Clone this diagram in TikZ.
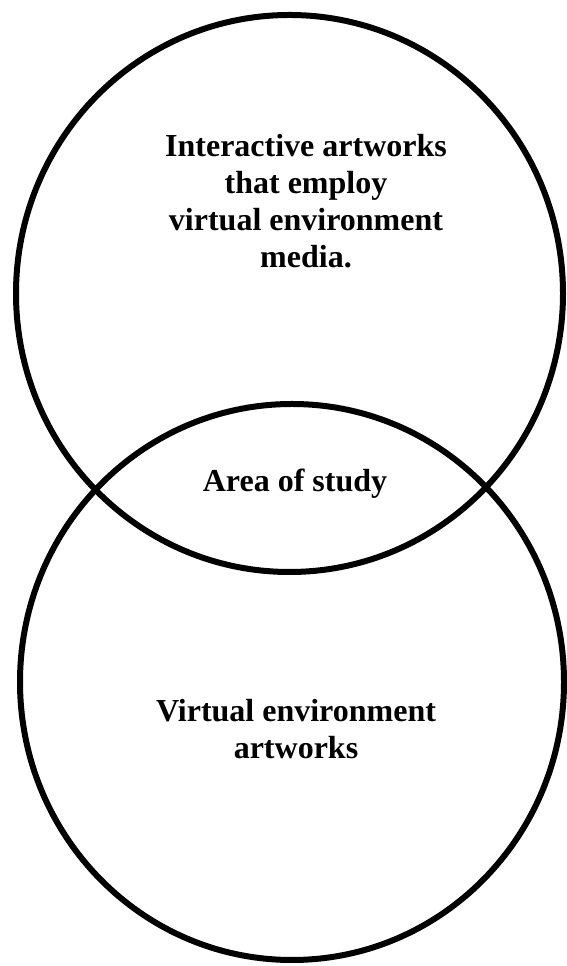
\documentclass[tikz,border=0pt]{standalone}
\usepackage{fontspec}
\setmainfont{Liberation Serif}
\usetikzlibrary{shapes.geometric}
\begin{document}
\begin{tikzpicture}[x=1pt,y=1pt,
  setring/.style={draw=black, line width=6pt, shape=ellipse, inner sep=0pt},
  label text/.style={font=\bfseries\fontsize{32}{37}\selectfont, align=center, inner sep=0pt}]
  \useasboundingbox (0,0) rectangle (566,966);
  % the two overlapping sets
  \node[setring, minimum width=547pt, minimum height=557pt] (upper) at (289.5,672.5) {};
  \node[setring, minimum width=544pt, minimum height=556pt] (lower) at (292,284) {};
  % labels
  \node[label text] (upperlabel) at (306,765)
    {Interactive artworks\\that employ\\virtual environment\\media.};
  \node[label text, anchor=base] (overlap) at (295,474) {Area of study};
  \node[label text] (lowerlabel) at (296,236.5)
    {Virtual environment\\artworks};
\end{tikzpicture}
\end{document}
